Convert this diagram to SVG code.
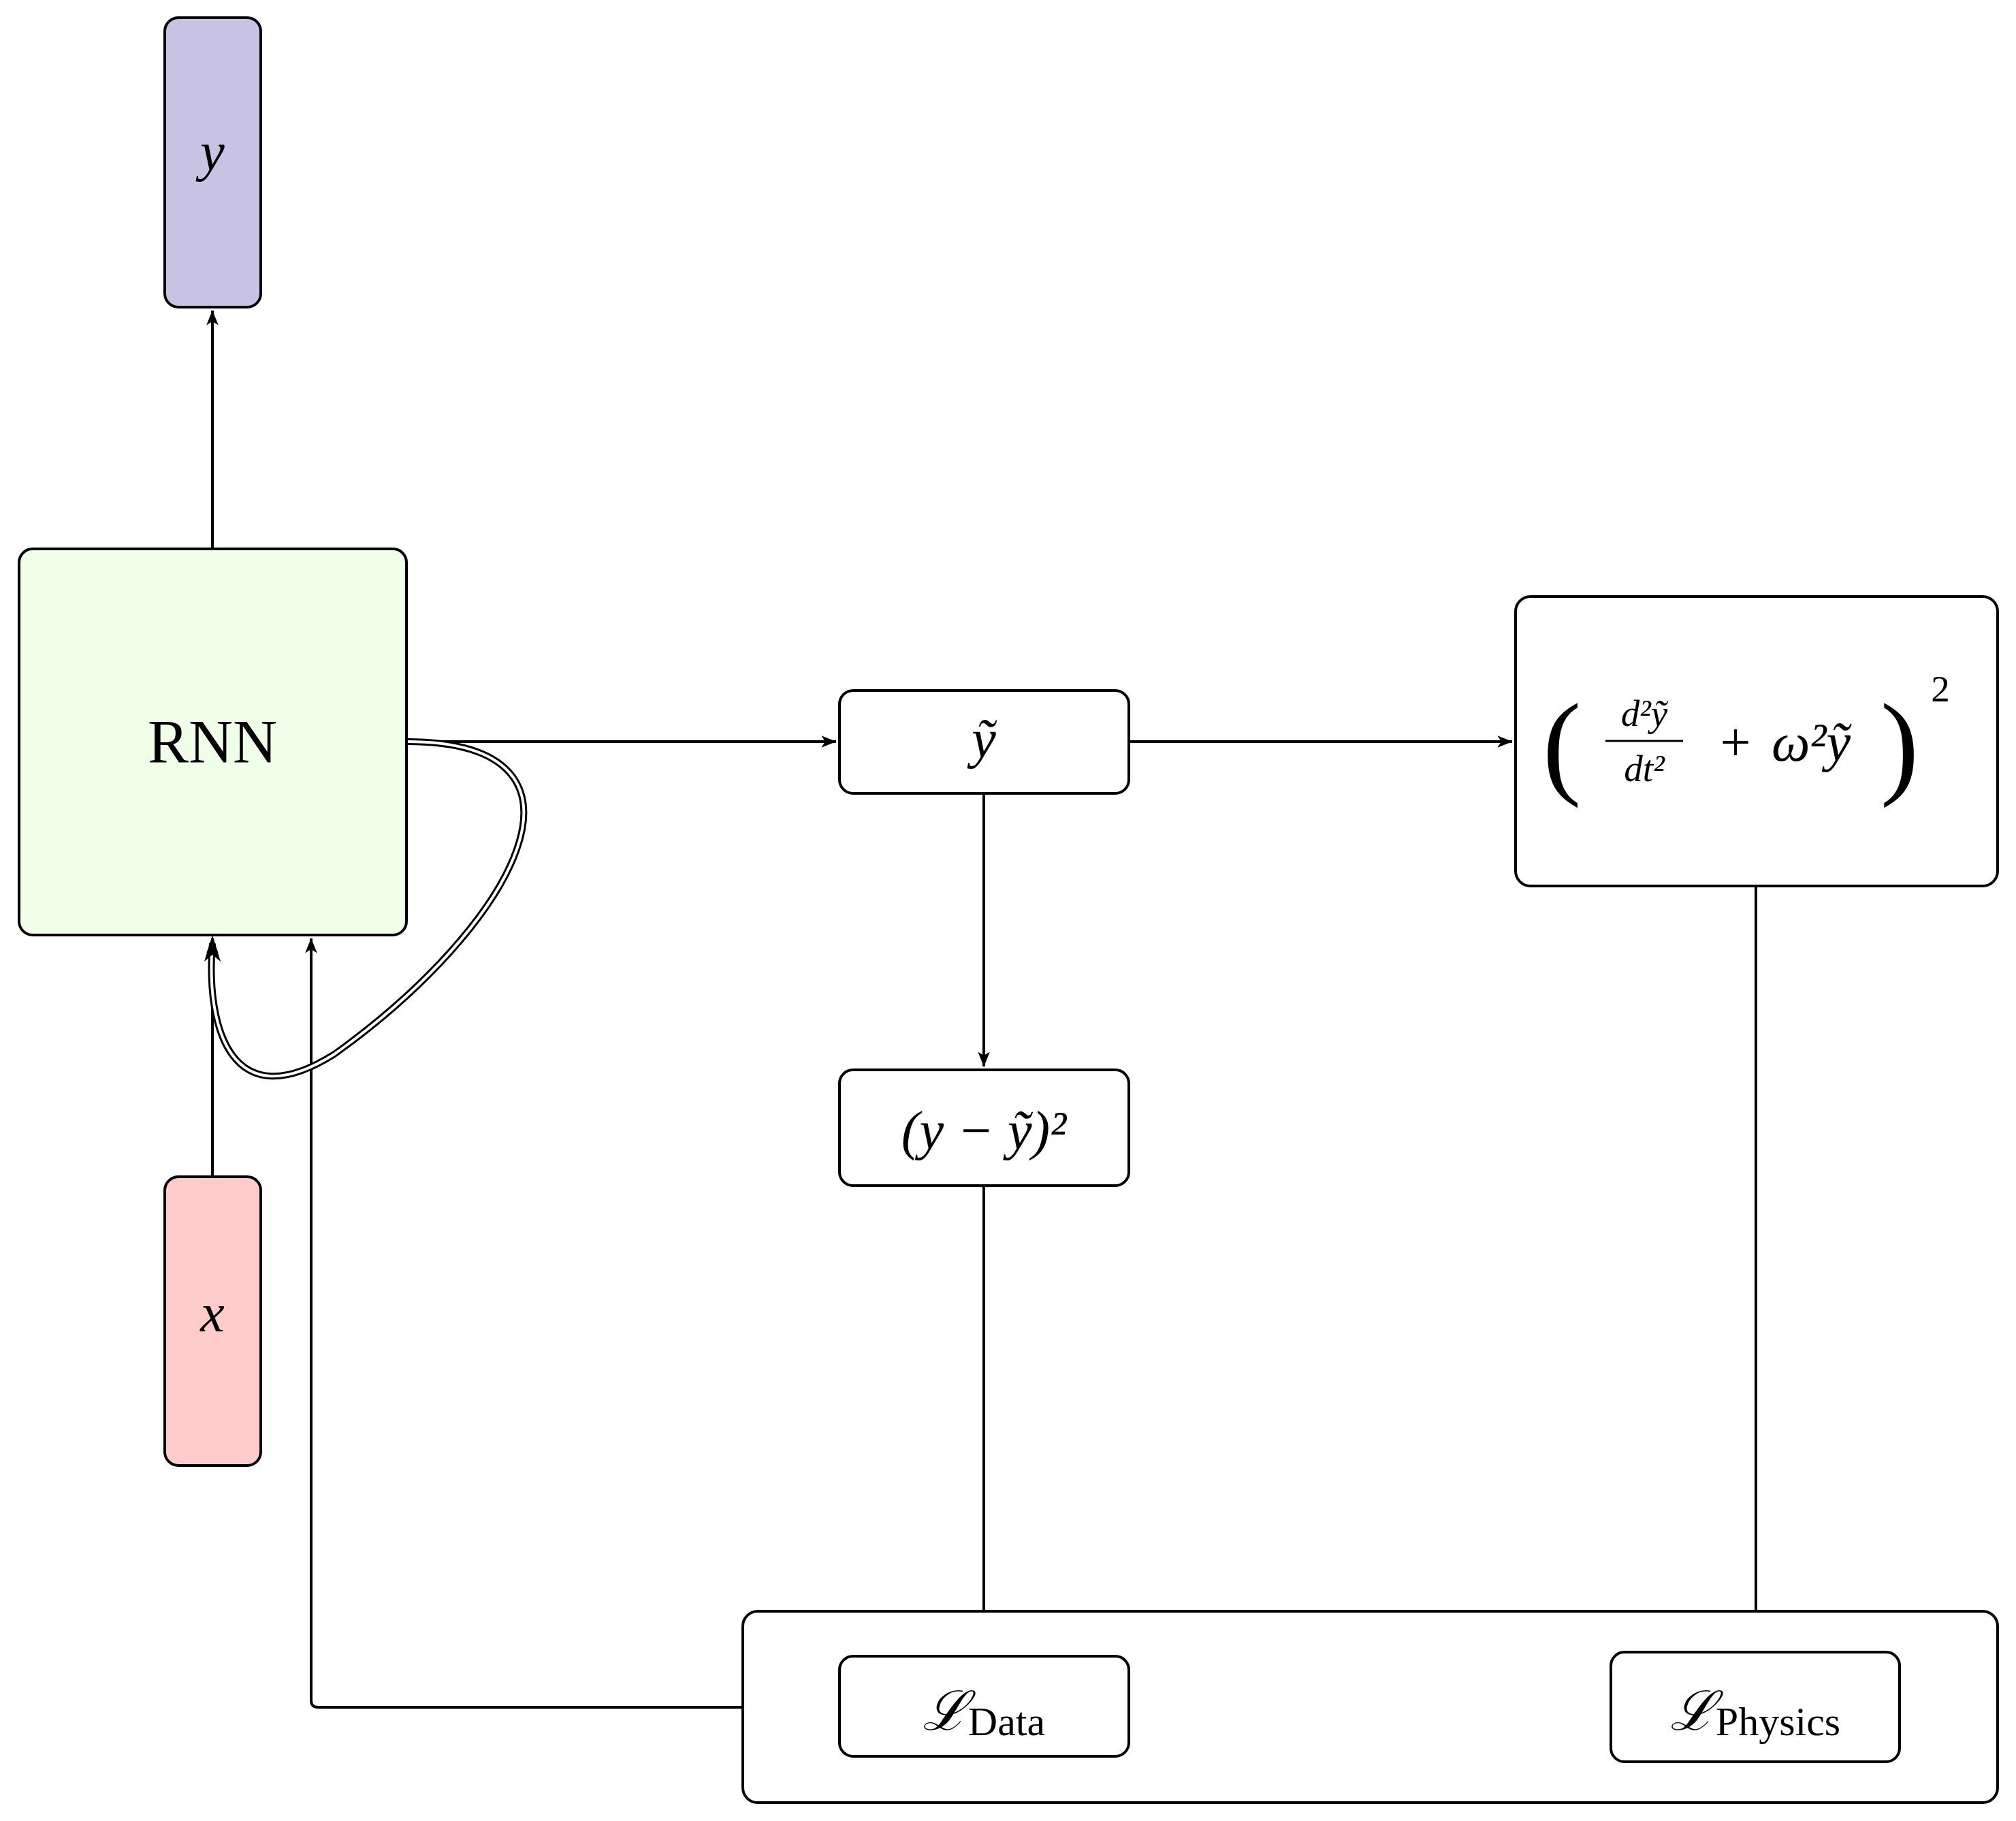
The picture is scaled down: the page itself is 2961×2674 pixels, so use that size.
<svg xmlns="http://www.w3.org/2000/svg" width="2961" height="2674" viewBox="0 0 2961 2674">
<style>
.n{stroke:#000;stroke-width:4;}
.c{stroke:#000;stroke-width:4;fill:none;}
.t{font-family:"Liberation Serif","DejaVu Serif",serif;fill:#000;text-anchor:middle;}
.i{font-style:italic;}
</style>
<defs>
<marker id="a" viewBox="0 0 20 16" refX="19" refY="8" markerWidth="10" markerHeight="8" markerUnits="userSpaceOnUse" orient="auto" style="overflow:visible">
<path d="M0,0 L20,8 L0,16 L5,8 Z" fill="#000" transform="scale(2.2) translate(-11,-4.4)"/>
</marker>
</defs>
<rect width="2961" height="2674" fill="#fff"/>
<g id="connectors">
<path class="c" d="M312,806 V456" marker-end="url(#a)"/>
<path class="c" d="M597,1089 H1228" marker-end="url(#a)"/>
<path class="c" d="M1658,1089 H2221" marker-end="url(#a)"/>
<path class="c" d="M1445,1165 V1566" marker-end="url(#a)"/>
<path class="c" d="M1445,1741 V2427" marker-end="url(#a)"/>
<path class="c" d="M2579,1301 V2421" marker-end="url(#a)"/>
<path class="c" d="M312,1728 V1378" marker-end="url(#a)"/>
<path class="c" d="M1091,2507 H467 Q457,2507 457,2497 V1378" marker-end="url(#a)"/>
<path d="M597,1089 C906,1089 755,1359 491,1548 C340,1643 302,1510 312,1385" fill="none" stroke="#000" stroke-width="10"/>
<path d="M597,1089 C906,1089 755,1359 491,1548 C340,1643 302,1510 312,1385" fill="none" stroke="#fff" stroke-width="4"/>
<path d="M312,1373 L324,1412 L312,1402 L300,1412 Z" fill="#000"/>
</g>
<g id="y"><rect class="n" x="242" y="26" width="141" height="425" rx="20" fill="#c9c3e3"/><text class="t i" x="312" y="250" font-size="80">y</text></g>
<g id="rnn"><rect class="n" x="28" y="806" width="569" height="567" rx="20" fill="#f0ffe8"/><text class="t" x="312" y="1120" font-size="90">RNN</text></g>
<g id="x"><rect class="n" x="242" y="1728" width="141" height="424" rx="20" fill="#ffcccc"/><text class="t i" x="312" y="1955" font-size="80">x</text></g>
<g id="ytilde"><rect class="n" x="1233" y="1014" width="425" height="151" rx="20" fill="#fff"/><text class="t i" x="1445" y="1112" font-size="80">ỹ</text></g>
<g id="physics"><rect class="n" x="2226" y="876" width="708" height="425" rx="22" fill="#fff"/>
<text class="t" x="2294" y="1150" font-size="170">(</text>
<text class="t i" x="2415" y="1066" font-size="55">d²ỹ</text>
<line x1="2358" y1="1088" x2="2472" y2="1088" stroke="#000" stroke-width="3"/>
<text class="t i" x="2415" y="1147" font-size="55">dt²</text>
<text class="t" x="2549" y="1117" font-size="80">+</text>
<text class="t i" x="2660" y="1117" font-size="80">ω²ỹ</text>
<text class="t" x="2790" y="1150" font-size="170">)</text>
<text class="t" x="2850" y="1030" font-size="55">2</text>
</g>
<g id="dataloss"><rect class="n" x="1233" y="1571" width="425" height="170" rx="20" fill="#fff"/><text class="t i" x="1445" y="1687" font-size="80">(y − ỹ)²</text></g>
<g id="losses"><rect class="n" x="1091" y="2366" width="1843" height="281" rx="22" fill="#fff"/>
<g id="ldata"><rect class="n" x="1233" y="2432" width="425" height="147" rx="20" fill="#fff"/><text class="t" x="1445" y="2540" font-size="80"><tspan class="i">ℒ</tspan><tspan font-size="60" dy="8">Data</tspan></text></g>
<g id="lphys"><rect class="n" x="2366" y="2426" width="424" height="161" rx="20" fill="#fff"/><text class="t" x="2578" y="2540" font-size="80"><tspan class="i">ℒ</tspan><tspan font-size="60" dy="8">Physics</tspan></text></g>
</g>
</svg>
